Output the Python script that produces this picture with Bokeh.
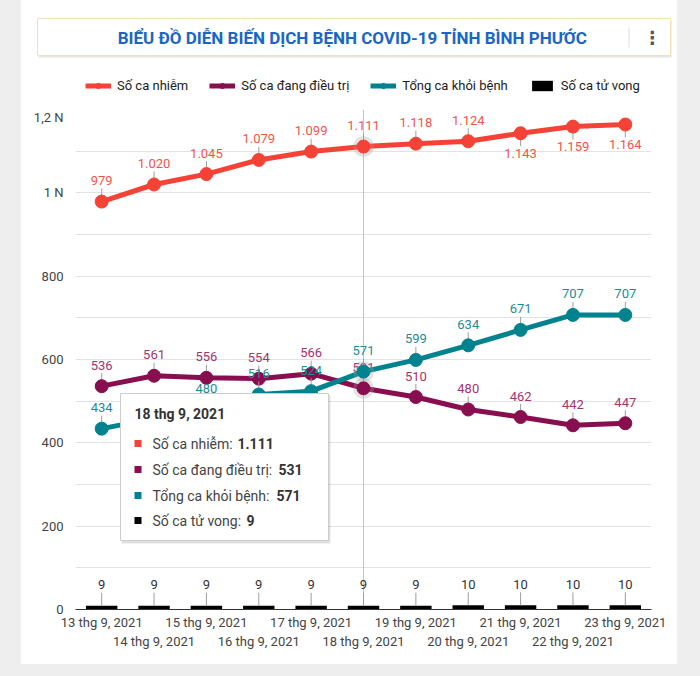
from bokeh.plotting import figure
from bokeh.models import (FactorRange, Range1d, FixedTicker, Legend, LegendItem, Span,
                          BoxAnnotation, Label, CategoricalAxis, Spacer, CustomJSTickFormatter)
from bokeh.layouts import row, column
from bokeh.core.properties import value
from bokeh.embed import file_html
from bokeh.resources import INLINE

# ---------------- data ----------------
dates = ["13 thg 9, 2021", "14 thg 9, 2021", "15 thg 9, 2021", "16 thg 9, 2021",
         "17 thg 9, 2021", "18 thg 9, 2021", "19 thg 9, 2021", "20 thg 9, 2021",
         "21 thg 9, 2021", "22 thg 9, 2021", "23 thg 9, 2021"]
infected = [979, 1020, 1045, 1079, 1099, 1111, 1118, 1124, 1143, 1159, 1164]
treating = [536, 561, 556, 554, 566, 531, 510, 480, 462, 442, 447]
recovered = [434, 458, 480, 516, 524, 571, 599, 634, 671, 707, 707]
deaths = [9, 9, 9, 9, 9, 9, 9, 10, 10, 10, 10]
series_names = ["Số ca nhiễm", "Số ca đang điều trị", "Tổng ca khỏi bệnh", "Số ca tử vong"]
y_ticks = [0, 200, 400, 600, 800, 1000, 1200]
y_tick_labels = ["0", "200", "400", "600", "800", "1 N", "1,2 N"]
grid_ticks = [0, 100, 200, 300, 400, 500, 600, 700, 800, 900, 1000, 1100, 1200]
infected_label_side = ["above"] * 8 + ["below"] * 3
title_text = "BIỂU ĐỒ DIỄN BIẾN DỊCH BỆNH COVID-19 TỈNH BÌNH PHƯỚC"
highlight = 5  # 18 thg 9, 2021

FONT = "Roboto"
GRAY = "#eeeeee"
RED, PURPLE, TEAL = "#f44336", "#880e4f", "#00838f"
Y_MAX = 1200
FRAME_H = 500
PPU = FRAME_H / Y_MAX
STEM = 13 / PPU
LABEL_OFF = 21

CARD_W = 656
HEAD_H = 109
MAIN_H = 555


def fmt(v):
    return f"{v:,}".replace(",", ".")


def sbox(l, r, t, b, **kw):
    return BoxAnnotation(left=l, right=r, top=t, bottom=b, left_units="screen",
                         right_units="screen", top_units="screen", bottom_units="screen", **kw)


# ================= header (title bar + legend) =================
h = figure(width=CARD_W, height=HEAD_H, x_range=Range1d(0, CARD_W), y_range=Range1d(0, HEAD_H),
           x_axis_type=None, y_axis_type=None, min_border=0, output_backend="svg",
           toolbar_location=None, outline_line_color=None, border_fill_color="white",
           background_fill_color="white")
h.frame_align = False
h.grid.visible = False

h.add_layout(sbox(17, 650, 89, 52, fill_color="black", fill_alpha=0.10, line_color=None))
h.add_layout(sbox(16, 649, 91, 54, fill_color="white", fill_alpha=1, line_color="#efe2b8",
                  line_alpha=1, line_width=1))
h.add_layout(sbox(607, 608, 82, 62, fill_color="#dddddd", fill_alpha=1, line_color=None))
h.add_layout(Label(x=331, y=72, x_units="screen", y_units="screen", text=title_text,
                   text_align="center", text_baseline="middle", text_font=FONT,
                   text_font_size="17px", text_font_style="bold", text_color="#1a66c4"))
h.add_layout(Label(x=631, y=72, x_units="screen", y_units="screen", text="⋮",
                   text_align="center", text_baseline="middle", text_font="DejaVu Sans",
                   text_font_size="18px", text_font_style="bold", text_color="#555555"))

# legend carriers (placed outside the visible header range)
off = [-50]
lg_red = [h.line(x=off, y=off, line_color=RED, line_width=5),
          h.scatter(x=off, y=off, size=11, fill_color=RED, line_color=RED)]
lg_pur = [h.line(x=off, y=off, line_color=PURPLE, line_width=5),
          h.scatter(x=off, y=off, size=11, fill_color=PURPLE, line_color=PURPLE)]
lg_teal = [h.line(x=off, y=off, line_color=TEAL, line_width=5),
           h.scatter(x=off, y=off, size=11, fill_color=TEAL, line_color=TEAL)]
lg_bar = [h.vbar(x=off, top=off, width=1, fill_color="black", line_color=None)]
legend = Legend(items=[
    LegendItem(label=series_names[0], renderers=lg_red),
    LegendItem(label=series_names[1], renderers=lg_pur),
    LegendItem(label=series_names[2], renderers=lg_teal),
    LegendItem(label=series_names[3], renderers=lg_bar),
], orientation="horizontal", location=(64, 16), padding=0, margin=0, spacing=21,
    label_standoff=6, glyph_width=26, glyph_height=13, label_height=16,
    label_text_font=FONT, label_text_font_size="13px", label_text_color="#222222",
    border_line_color=None, background_fill_alpha=0)
h.add_layout(legend)

# ================= main chart =================
p = figure(x_range=FactorRange(*dates), y_range=Range1d(0, Y_MAX),
           width=CARD_W, height=MAIN_H, output_backend="svg", toolbar_location=None,
           min_border_left=54, min_border_right=26, min_border_top=0, min_border_bottom=55,
           border_fill_color="white", background_fill_color="white", outline_line_color=None)
p.frame_align = False

p.xgrid.visible = False
p.ygrid.ticker = FixedTicker(ticks=grid_ticks)
p.ygrid.grid_line_color = "#e3e3e3"
p.ygrid.grid_line_width = 1

p.yaxis.ticker = FixedTicker(ticks=y_ticks)
p.yaxis.major_label_overrides = {t: l for t, l in zip(y_ticks, y_tick_labels)}
p.yaxis.axis_line_color = None
p.yaxis.major_tick_line_color = None
p.yaxis.minor_tick_line_color = None
p.yaxis.major_tick_out = 0
p.yaxis.major_tick_in = 0
p.yaxis.major_label_standoff = 12
p.yaxis.major_label_text_font = FONT
p.yaxis.major_label_text_font_size = "13px"
p.yaxis.major_label_text_color = "#444444"


def style_xaxis(ax, standoff):
    ax.major_tick_line_color = None
    ax.minor_tick_line_color = None
    ax.major_tick_out = 0
    ax.major_tick_in = 0
    ax.major_label_standoff = standoff
    ax.major_label_text_font = FONT
    ax.major_label_text_font_size = "13px"
    ax.major_label_text_color = "#444444"


xa = p.xaxis[0]
xa.axis_line_color = "#333333"
xa.axis_line_width = 1
style_xaxis(xa, 5)
xa.formatter = CustomJSTickFormatter(code="return (index % 2 == 0) ? tick : '';")

xb = CategoricalAxis()
xb.axis_line_color = None
style_xaxis(xb, 1)
xb.formatter = CustomJSTickFormatter(code="return (index % 2 == 1) ? tick : '';")
p.add_layout(xb, "below")

# crosshair at highlighted date
p.add_layout(Span(location=highlight + 0.5, dimension="height", line_color="#c4c4c4",
                  line_width=1, level="underlay"))

# ---- deaths bars ----
p.vbar(x=dates, top=deaths, width=0.6, fill_color="black", line_color=None)
p.segment(x0=dates, y0=deaths, x1=dates, y1=[v + STEM for v in deaths],
          line_color="#9e9e9e", line_width=1)
p.text(x=dates, y=deaths, text=[fmt(v) for v in deaths], y_offset=-LABEL_OFF,
       text_align="center", text_baseline="middle", text_font=value(FONT),
       text_font_size="13px", text_color="#333333")


def draw_series(vals, color, label_color, sides):
    ends = [v + STEM if s == "above" else v - STEM for v, s in zip(vals, sides)]
    p.segment(x0=dates, y0=vals, x1=dates, y1=ends, line_color="#9e9e9e", line_width=1)
    p.line(x=dates, y=vals, line_color=color, line_width=5)
    p.scatter(x=[dates[highlight]], y=[vals[highlight]], size=21, fill_color="#9e9e9e",
              fill_alpha=0.3, line_color=None)
    p.scatter(x=dates, y=vals, size=13, fill_color=color, line_color=color)
    for side in ("above", "below"):
        xs = [d for d, s in zip(dates, sides) if s == side]
        ys = [v for v, s in zip(vals, sides) if s == side]
        if not xs:
            continue
        p.text(x=xs, y=ys, text=[fmt(v) for v in ys],
               y_offset=-LABEL_OFF if side == "above" else LABEL_OFF - 1,
               text_align="center", text_baseline="middle", text_font=value(FONT),
               text_font_size="13px", text_color=label_color)


draw_series(infected, RED, "#f2544a", infected_label_side)
draw_series(treating, PURPLE, "#a3346c", ["above"] * len(treating))
draw_series(recovered, TEAL, "#1f8b94", ["above"] * len(recovered))

# ---- static tooltip for highlighted date ----
p.add_layout(sbox(46, 255, 214, 66, fill_color="black", fill_alpha=0.12, line_color=None,
                  level="overlay"))
p.add_layout(sbox(45, 253, 216, 69, fill_color="white", fill_alpha=1, line_color="#cccccc",
                  line_alpha=1, line_width=1, level="overlay"))
p.add_layout(Label(x=59, y=196, x_units="screen", y_units="screen", text=dates[highlight],
                   text_baseline="middle", text_font=FONT, text_font_size="14px",
                   text_font_style="bold", text_color="#333333", level="overlay"))
tip_colors = [RED, PURPLE, TEAL, "#000000"]
tip_values = [infected[highlight], treating[highlight], recovered[highlight], deaths[highlight]]
tip_rows_y = [166, 140, 114, 89]
tip_value_x = [162, 203, 201, 171]
for name, col, v, sy, vx in zip(series_names, tip_colors, tip_values, tip_rows_y, tip_value_x):
    p.add_layout(sbox(59, 66, sy + 3.5, sy - 3.5, fill_color=col, fill_alpha=1,
                      line_color=None, level="overlay"))
    p.add_layout(Label(x=77, y=sy, x_units="screen", y_units="screen", text=name + ":",
                       text_baseline="middle", text_font=FONT, text_font_size="14px",
                       text_color="#444444", level="overlay"))
    p.add_layout(Label(x=vx, y=sy, x_units="screen", y_units="screen", text=fmt(v),
                       text_baseline="middle", text_font=FONT, text_font_size="14px",
                       text_font_style="bold", text_color="#333333", level="overlay"))

# ================= page layout =================
card = column(h, p, Spacer(width=CARD_W, height=12, styles={"background-color": GRAY}))
page = row(Spacer(width=21, height=HEAD_H + MAIN_H + 12, styles={"background-color": GRAY}),
           card,
           Spacer(width=23, height=HEAD_H + MAIN_H + 12, styles={"background-color": GRAY}))

open("out.html", "w").write(file_html(page, INLINE))
